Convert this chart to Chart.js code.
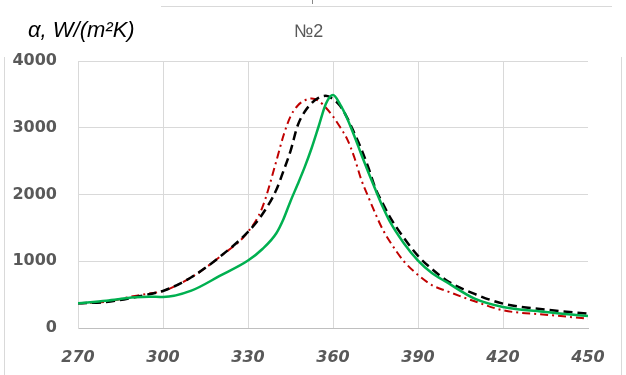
<!DOCTYPE html>
<html>
<head>
<meta charset="utf-8">
<script src="https://cdn.jsdelivr.net/npm/chart.js@4.4.1/dist/chart.umd.min.js"></script>
<style>
  html,body{margin:0;padding:0;background:#fff;}
  #wrap{position:relative;width:626px;height:375px;overflow:hidden;}
  #chart{position:absolute;left:0;top:0;}
  .txt{position:absolute;white-space:nowrap;font-family:"Liberation Sans",Arial,sans-serif;}
  #yTitle{left:28px;top:17px;font-size:22px;font-style:italic;color:#000;}
  #no{left:294px;top:21px;font-size:18px;color:#595959;}
  .ln{position:absolute;background:#d9d9d9;}
</style>
</head>
<body>
<div id="wrap">
  <canvas id="chart" width="626" height="375"></canvas>
  <div class="ln" style="left:161px;top:6px;width:451px;height:1px;"></div>
  <div class="ln" style="left:312px;top:0px;width:1px;height:4px;background:#888;"></div>
  <div class="ln" style="left:4px;top:57px;width:1px;height:318px;"></div>
  <div class="ln" style="left:621px;top:57px;width:1px;height:318px;"></div>
  <div class="txt" id="yTitle">α, W/(m²K)</div>
  <div class="txt" id="no">№2</div>
</div>
<script>
// temperature, K
const temps=[270,280,290,295,300,310,320,330,335,340,342.5,345,347.5,350,352.5,355,357.5,360,362.5,365,367.5,370,372.5,375,377.5,380,385,390,395,400,410,420,435,450];

// heat transfer coefficient, W/(m2K)
const greenVals=[370,410,460,470,465,560,780,1010,1180,1420,1630,1900,2150,2410,2700,3030,3360,3490,3350,3140,2880,2600,2330,2070,1820,1600,1270,1010,820,690,440,315,240,180];
const blackVals=[370,390,460,505,555,760,1065,1440,1700,2070,2350,2650,3030,3240,3370,3450,3480,3430,3330,3150,2920,2680,2400,2090,1870,1670,1350,1080,880,715,510,365,275,215];
const redVals=[370,395,480,515,555,760,1065,1440,1800,2500,2880,3170,3330,3410,3440,3400,3300,3170,3010,2830,2560,2220,1960,1710,1480,1300,1000,795,640,555,400,265,200,140];

const xTicks=[270,300,330,360,390,420,450];
const yTicks=[0,1000,2000,3000,4000];

function pts(vals){
    return temps.map((t,i)=>({x:t,y:vals[i]}));
}

const gridCol="#d9d9d9";

new Chart(document.getElementById("chart"),{
    type:"line",
    data:{
        datasets:[
            {data:pts(greenVals),borderColor:"#00b050",borderWidth:2.5,pointRadius:0,cubicInterpolationMode:"monotone",fill:false},
            {data:pts(blackVals),borderColor:"#000000",borderWidth:2.5,borderDash:[9,5],pointRadius:0,cubicInterpolationMode:"monotone",fill:false},
            {data:pts(redVals),borderColor:"#c00000",borderWidth:2,borderDash:[8,4,2,4],pointRadius:0,cubicInterpolationMode:"monotone",fill:false}
        ]
    },
    options:{
        responsive:false,
        animation:false,
        layout:{padding:{left:0,top:61,right:38,bottom:0}},
        plugins:{legend:{display:false},tooltip:{enabled:false}},
        scales:{
            x:{
                type:"linear",min:270,max:450,
                afterBuildTicks:s=>{s.ticks=xTicks.map(v=>({value:v}));},
                afterFit:s=>{s.height=47;},
                grid:{color:c=>c.tick&&c.tick.value===450?"rgba(0,0,0,0)":gridCol,drawTicks:false},
                border:{color:"#bfbfbf"},
                ticks:{padding:20,color:"#595959",callback:v=>String(v),font:{family:"DejaVu Sans",size:16,weight:"bold",style:"italic"}}
            },
            y:{
                min:0,max:4000,
                afterBuildTicks:s=>{s.ticks=yTicks.map(v=>({value:v}));},
                afterFit:s=>{s.width=78;},
                grid:{color:gridCol,drawTicks:false},
                border:{color:"#d9d9d9"},
                ticks:{padding:21,color:"#595959",callback:v=>String(v),font:{family:"DejaVu Sans",size:16,weight:"bold"}}
            }
        }
    }
});
</script>
</body>
</html>
